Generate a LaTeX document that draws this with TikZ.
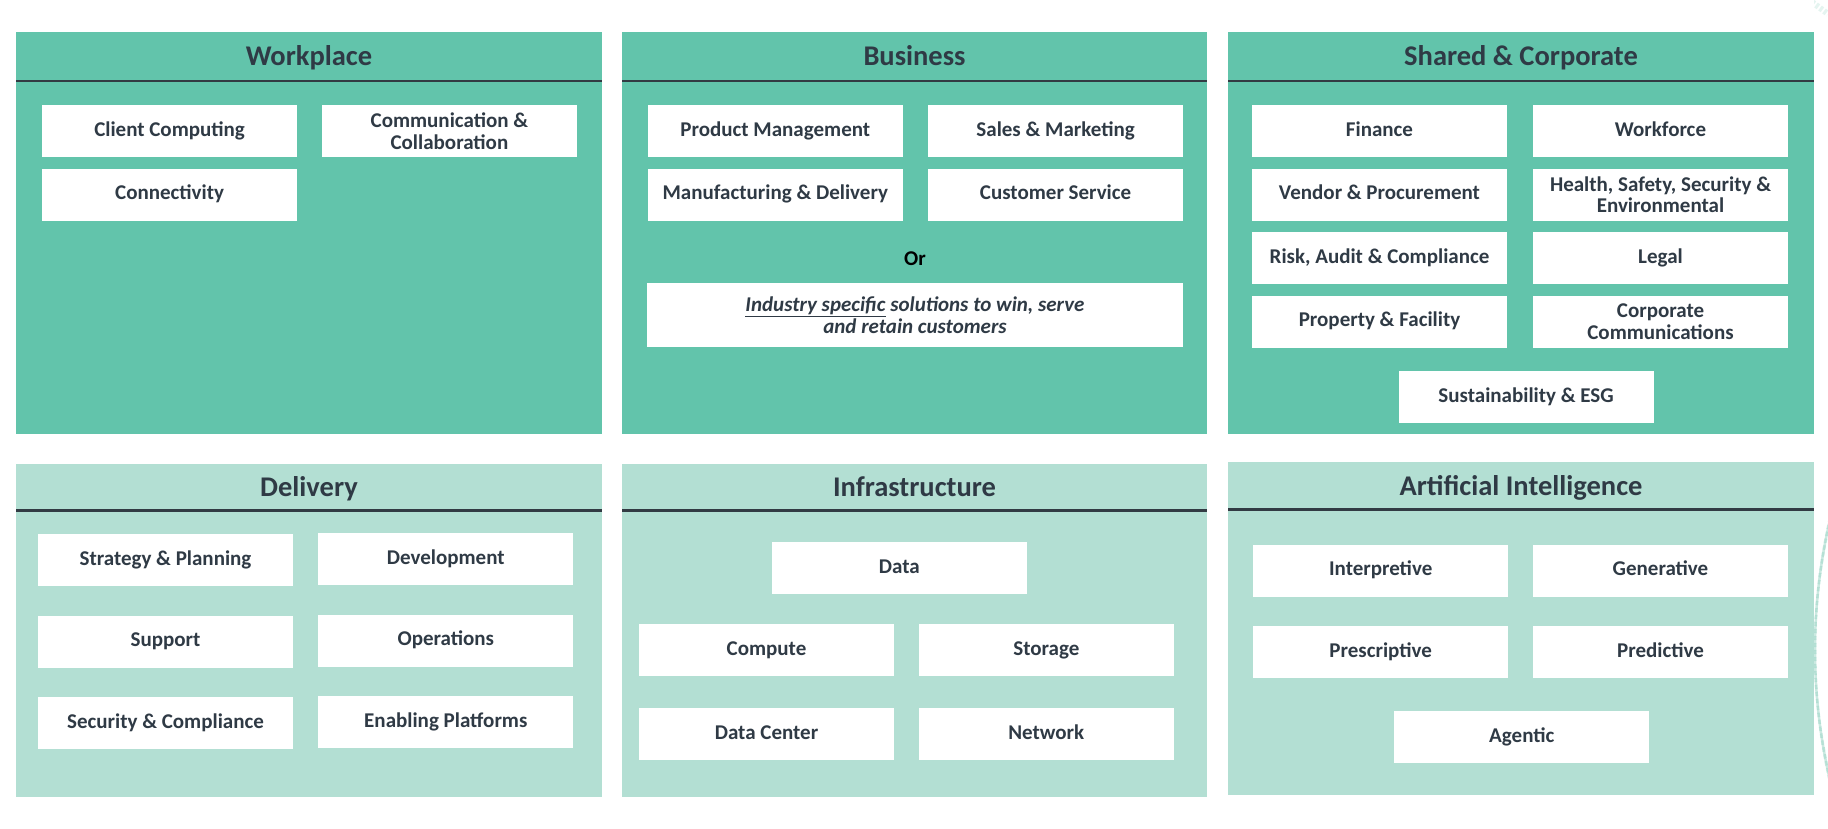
\documentclass[tikz,border=0pt]{standalone}
\usepackage{fontspec}
\setmainfont{Carlito}
\definecolor{topg}{HTML}{62C4AB}
\definecolor{botg}{HTML}{B3DFD3}
\definecolor{ink}{HTML}{2F3A45}
\definecolor{rule}{HTML}{323B43}
\definecolor{deco}{HTML}{A8DACD}
\tikzset{
  panelA/.style={fill=topg, draw=none},
  panelB/.style={fill=botg, draw=none},
  hdr/.style={draw=rule, line width=2.6pt},
  ttl/.style={text=ink, font=\fontsize{28.5}{32}\selectfont\bfseries, inner sep=0pt, text height=20pt, text depth=6pt},
  cell/.style={fill=white, draw=none, minimum width=255pt, minimum height=52pt, inner sep=2pt,
    align=center, text=ink, font=\fontsize{21}{21.5}\selectfont\bfseries, text height=15pt, text depth=5pt},
  twoline/.style={text height={}, text depth={}},
}
\begin{document}
\begin{tikzpicture}[x=1pt,y=-1pt]
\useasboundingbox (0,0) rectangle (1828,828);
% decoration (faint dashed arcs at the right edge)
\begin{scope}
\clip (1814,0) rectangle (1828,828);
\foreach \r in {560,575,590}{
  \draw[deco, line width=2.5pt, dash pattern=on 4pt off 3pt, opacity=0.6] (1815+\r,650) ++(180-14:\r) arc (180-14:180+14:\r);
}
\draw[deco!60, line width=6pt, dash pattern=on 3pt off 2pt, opacity=0.5] (1812,2) -- (1828,14);
\end{scope}
% panels
\fill[panelA] (16,32) rectangle (602,434);
\fill[panelA] (622,32) rectangle (1207,434);
\fill[panelA] (1228,32) rectangle (1814,434);
\fill[panelB] (16,464) rectangle (602,797);
\fill[panelB] (622,464) rectangle (1207,797);
\fill[panelB] (1228,462) rectangle (1814,795);
\draw[hdr] (16,81) -- (602,81);
\draw[hdr] (622,81) -- (1207,81);
\draw[hdr] (1228,81) -- (1814,81);
\draw[hdr] (16,510.5) -- (602,510.5);
\draw[hdr] (622,510.5) -- (1207,510.5);
\draw[hdr] (1228,509.5) -- (1814,509.5);
% titles
\node[ttl] (tWork) at (309,58) {Workplace};
\node[ttl] (tBus) at (914.5,58) {Business};
\node[ttl] (tShr) at (1521,58) {Shared \& Corporate};
\node[ttl] (tDel) at (309,489) {Delivery};
\node[ttl] (tInf) at (914.5,489) {Infrastructure};
\node[ttl] (tAI) at (1521,488) {Artificial Intelligence};
% Workplace
\node[cell] (cc) at (169.6,131.2) {Client Computing};
\node[cell, twoline] (ccol) at (449.4,131.2) {Communication \&\\Collaboration};
\node[cell] (conn) at (169.6,194.7) {Connectivity};
% Business
\node[cell] (pm) at (775.3,131.2) {Product Management};
\node[cell] (sm) at (1055.6,131.2) {Sales \& Marketing};
\node[cell] (md) at (775.3,194.7) {Manufacturing \& Delivery};
\node[cell] (cs) at (1055.6,194.7) {Customer Service};
\node[text=black, font=\fontsize{21}{23}\selectfont\bfseries, inner sep=0pt] (or) at (915,259) {Or};
\node[cell, twoline, minimum width=536pt, minimum height=64pt, font=\fontsize{21}{22}\selectfont\bfseries\itshape] (ind) at (915,315.4)
  {\underline{Industry specific} solutions to win, serve\\and retain customers};
% Shared & Corporate
\node[cell] (fin) at (1379.5,131.2) {Finance};
\node[cell] (wf) at (1660.5,131.2) {Workforce};
\node[cell] (vp) at (1379.5,194.7) {Vendor \& Procurement};
\node[cell, twoline] (hss) at (1660.5,194.7) {Health, Safety, Security \&\\Environmental};
\node[cell] (rac) at (1379.5,258.3) {Risk, Audit \& Compliance};
\node[cell] (leg) at (1660.5,258.3) {Legal};
\node[cell] (pf) at (1379.5,321.7) {Property \& Facility};
\node[cell, twoline] (cco) at (1660.5,321.7) {Corporate\\Communications};
\node[cell] (sus) at (1526,397) {Sustainability \& ESG};
% Delivery
\node[cell] (sp) at (165.5,560.2) {Strategy \& Planning};
\node[cell] (dev) at (445.8,559) {Development};
\node[cell] (sup) at (165.5,641.7) {Support};
\node[cell] (ops) at (445.8,640.6) {Operations};
\node[cell] (sc) at (165.5,723.3) {Security \& Compliance};
\node[cell] (ep) at (445.8,722.2) {Enabling Platforms};
% Infrastructure
\node[cell] (data) at (899.4,568.3) {Data};
\node[cell] (comp) at (766.5,650) {Compute};
\node[cell] (stor) at (1046.3,650) {Storage};
\node[cell] (dc) at (766.5,734) {Data Center};
\node[cell] (net) at (1046.3,734) {Network};
% Artificial Intelligence
\node[cell] (interp) at (1380.7,570.7) {Interpretive};
\node[cell] (gen) at (1660.5,570.7) {Generative};
\node[cell] (presc) at (1380.7,652.3) {Prescriptive};
\node[cell] (pred) at (1660.5,652.3) {Predictive};
\node[cell] (agt) at (1521.8,737.3) {Agentic};
\end{tikzpicture}
\end{document}
